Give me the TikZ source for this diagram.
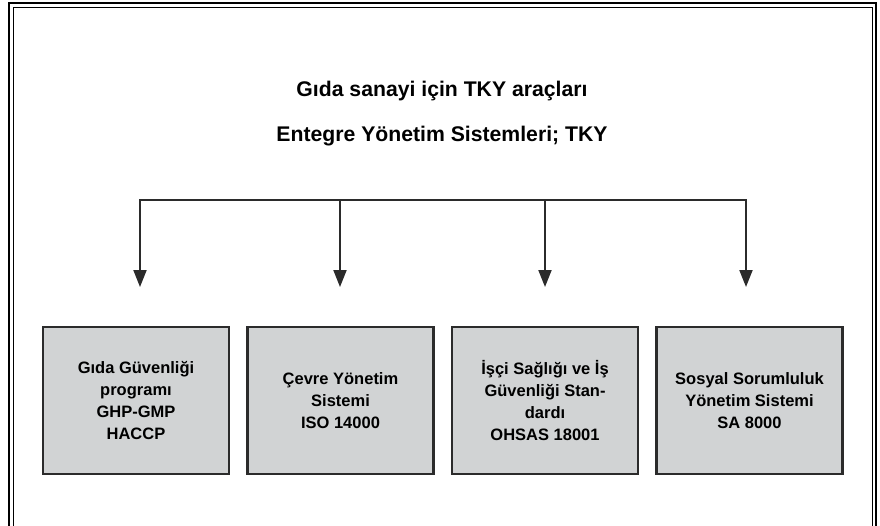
\documentclass[tikz,border=0pt]{standalone}
\usepackage{fontspec}
\setmainfont{Liberation Sans}
\usetikzlibrary{arrows.meta}

\definecolor{boxgray}{HTML}{D1D3D4}
\definecolor{edgegray}{HTML}{2B2B2B}

\tikzset{
  toolbox/.style={draw=edgegray,line width=2.2pt,fill=boxgray,minimum width=186pt,
    minimum height=147pt,align=center,font=\bfseries\fontsize{16.5}{22.3}\selectfont},
  heading/.style={font=\bfseries\fontsize{21.2}{25}\selectfont},
  conn/.style={draw=edgegray,line width=2pt},
}

\begin{document}
\begin{tikzpicture}[x=1pt,y=-1pt]
  \useasboundingbox (0,0) rectangle (880,525);
  % double frame, open at the bottom edge
  \begin{scope}
    \clip (0,0) rectangle (880,525);
    \draw[line width=1.4pt] (9,3) rectangle (876,540);
    \draw[line width=1pt] (13,7) rectangle (872,540);
  \end{scope}

  \node[heading] (title) at (442,91.5) {Gıda sanayi için TKY araçları};
  \node[heading] (subtitle) at (442,136.5) {Entegre Yönetim Sistemleri; TKY};

  \node[toolbox] (box1) at (136,400.5) {Gıda Güvenliği\\programı\\GHP-GMP\\HACCP};
  \node[toolbox] (box2) at (340.5,400.5) {Çevre Yönetim\\Sistemi\\ISO 14000};
  \node[toolbox] (box3) at (545,400.5) {İşçi Sağlığı ve İş\\Güvenliği Stan-\\dardı\\OHSAS 18001};
  \node[toolbox] (box4) at (749.5,400.5) {Sosyal Sorumluluk\\Yönetim Sistemi\\SA 8000};

  % distribution bar
  \coordinate (top1) at (140,200);
  \coordinate (top2) at (340,200);
  \coordinate (top3) at (545,200);
  \coordinate (top4) at (746,200);
  \coordinate (tips) at (0,287);
  \draw[conn,line cap=rect] (top1) -- (top4);
  \foreach \i in {1,...,4}
    \draw[conn,-{Triangle[length=17pt,width=13pt]}] (top\i) -- (top\i |- tips);
\end{tikzpicture}
\end{document}
